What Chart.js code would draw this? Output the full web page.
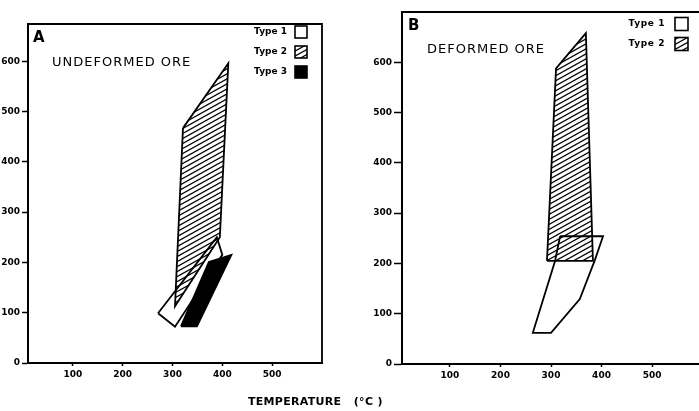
<!DOCTYPE html>
<html><head><meta charset="utf-8">
<script src="https://cdn.jsdelivr.net/npm/chart.js@4.4.1/dist/chart.umd.min.js"></script>
<style>
html,body{margin:0;padding:0;background:#fff}
body{width:699px;height:411px;overflow:hidden;position:relative}
#wa{position:absolute;left:0;top:0;width:340px;height:411px}
#wb{position:absolute;left:350px;top:0;width:349px;height:411px}
#xt{position:absolute;left:248px;top:395px;font:bold 11px "DejaVu Sans";letter-spacing:0.3px;white-space:pre;color:#000}
</style></head>
<body>
<div id="wa"><canvas id="ca"></canvas></div>
<div id="wb"><canvas id="cb"></canvas></div>
<div id="xt">TEMPERATURE   (°C )</div>
<script>
// ---- data (temperature °C, pressure) ----
const xTicks = [100, 200, 300, 400, 500];
const yTicks = [0, 100, 200, 300, 400, 500, 600];
const seriesLabels = ['Type 1', 'Type 2', 'Type 3'];
const panelTitles = ['A', 'B'];
const panelNames = ['UNDEFORMED ORE', 'DEFORMED ORE'];

// Panel A: undeformed ore
const aType1T = [271, 389, 400, 305];
const aType1P = [99, 250, 215, 72];
const aType2T = [321, 412, 395, 305];
const aType2P = [467, 596, 250, 113];
const aType3T = [317, 349, 418, 373];
const aType3P = [73, 73, 215, 201];

// Panel B: deformed ore
const bType1T = [318, 403, 387, 357, 300, 264, 308];
const bType1P = [254, 254, 207, 129, 62, 62, 205];
const bType2T = [292, 310, 369, 383];
const bType2P = [205, 588, 658, 205];

// ---- helpers ----
function poly(T, P) {
  const pts = T.map((t, i) => ({x: t, y: P[i]}));
  pts.push({x: T[0], y: P[0]});
  return pts;
}
function hatch() {
  const w = 9, h = 5;
  const c = document.createElement('canvas');
  c.width = w; c.height = h;
  const g = c.getContext('2d');
  g.fillStyle = '#fff'; g.fillRect(0, 0, w, h);
  g.strokeStyle = '#000'; g.lineWidth = 1.2;
  const k = h / w;
  for (const o of [-h, 0, h]) {
    g.beginPath(); g.moveTo(-1, h + o + k); g.lineTo(w + 1, o - k); g.stroke();
  }
  return g.createPattern(c, 'repeat');
}
const hatchPat = hatch();
const fills = ['rgba(255,255,255,0)', hatchPat, '#000'];

function ds(i, T, P) {
  return {
    label: seriesLabels[i], data: poly(T, P), showLine: true, fill: 'shape',
    backgroundColor: fills[i], borderColor: '#000', borderWidth: 1.8,
    pointRadius: 0, tension: 0
  };
}

const framePlugin = {
  id: 'frame',
  afterDraw(chart, args, o) {
    const ctx = chart.ctx, a = chart.chartArea;
    ctx.save();
    ctx.strokeStyle = '#000'; ctx.lineWidth = 1.8;
    ctx.beginPath();
    ctx.moveTo(a.left, a.top); ctx.lineTo(a.right, a.top);
    if (o.right) ctx.lineTo(a.right, a.bottom);
    ctx.stroke();
    // titles
    ctx.fillStyle = '#000'; ctx.textAlign = 'left'; ctx.textBaseline = 'alphabetic';
    ctx.font = 'bold 15px "DejaVu Sans"';
    ctx.fillText(o.title, o.tx, o.ty);
    ctx.font = '13px "DejaVu Sans"';
    ctx.letterSpacing = o.ls + 'px';
    ctx.fillText(o.name, o.nx, o.ny);
    ctx.letterSpacing = '0px';
    // legend
    ctx.font = 'bold 9px "DejaVu Sans"';
    ctx.letterSpacing = o.legLs + 'px';
    chart.data.datasets.forEach((d, i) => {
      const y = o.ly + i * o.ldy;
      ctx.textAlign = 'right'; ctx.textBaseline = 'middle';
      ctx.fillStyle = '#000';
      ctx.fillText(d.label, o.lx, y);
      ctx.fillStyle = d.backgroundColor;
      ctx.fillRect(o.bx, y - o.bs / 2, o.bs, o.bs);
      ctx.lineWidth = 1.6; ctx.strokeStyle = '#000';
      ctx.strokeRect(o.bx, y - o.bs / 2, o.bs, o.bs);
    });
    ctx.restore();
  }
};

function makeChart(id, datasets, cfg) {
  return new Chart(document.getElementById(id), {
    type: 'scatter',
    data: {datasets},
    plugins: [framePlugin],
    options: {
      responsive: true, maintainAspectRatio: false, animation: false,
      devicePixelRatio: 1,
      layout: {padding: {top: cfg.top, right: cfg.right, left: 0, bottom: 0}},
      plugins: {legend: {display: false}, tooltip: {enabled: false}, frame: cfg.frame},
      scales: {
        x: {
          type: 'linear', min: cfg.xmin, max: cfg.xmax,
          afterBuildTicks: s => { s.ticks = xTicks.map(v => ({value: v})); },
          afterFit: s => { s.height = cfg.xh; },
          border: {display: true, color: '#000', width: 2},
          grid: {drawOnChartArea: false, drawTicks: true, tickLength: 3, tickColor: '#000', tickWidth: 1.5},
          ticks: {color: '#000', padding: 3, font: {family: 'DejaVu Sans', weight: 'bold', size: 9}, maxRotation: 0}
        },
        y: {
          type: 'linear', min: 0, max: cfg.ymax,
          afterBuildTicks: s => { s.ticks = yTicks.map(v => ({value: v})); },
          afterFit: s => { s.width = cfg.yw; },
          border: {display: true, color: '#000', width: 2},
          grid: {drawOnChartArea: false, drawTicks: true, tickLength: cfg.tl, tickColor: '#000', tickWidth: 1.5},
          ticks: {color: '#000', padding: 2, font: {family: 'DejaVu Sans', weight: 'bold', size: 9}}
        }
      }
    }
  });
}

makeChart('ca', [ds(0, aType1T, aType1P), ds(1, aType2T, aType2P), ds(2, aType3T, aType3P)], {
  top: 24, right: 18, xh: 48, yw: 28, tl: 6, xmin: 10, xmax: 600, ymax: 674,
  frame: {right: true, title: panelTitles[0], tx: 33, ty: 42, name: panelNames[0], nx: 52, ny: 66, ls: 1,
          lx: 287, ly: 32, ldy: 20, bx: 295, bs: 12, legLs: 0}
});
makeChart('cb', [ds(0, bType1T, bType1P), ds(1, bType2T, bType2P)], {
  top: 12, right: 0, xh: 47, yw: 52, tl: 8, xmin: 5, xmax: 593, ymax: 700,
  frame: {right: false, title: panelTitles[1], tx: 58, ty: 30, name: panelNames[1], nx: 77, ny: 53, ls: 1,
          lx: 315, ly: 24, ldy: 20, bx: 325, bs: 13, legLs: 0.6}
});
</script>
</body></html>
